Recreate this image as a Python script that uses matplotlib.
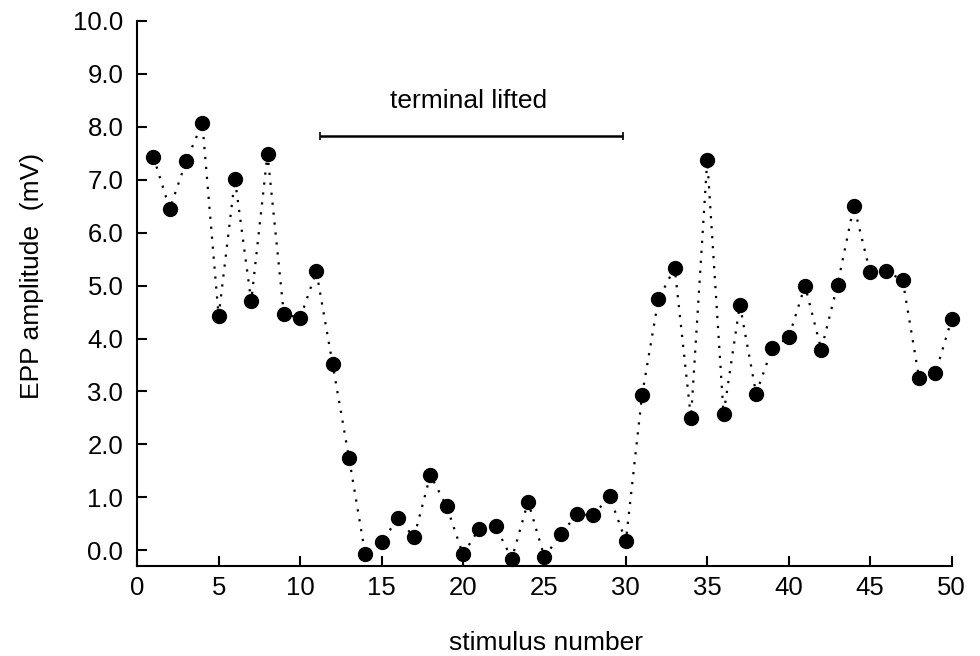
import numpy as np
import matplotlib
matplotlib.use("Agg")
import matplotlib.pyplot as plt

plt.rcParams['font.family'] = ['Liberation Sans', 'DejaVu Sans']

# EPP amplitude per stimulus
stimulus = np.arange(1, 51)
amplitude = [7.43, 6.45, 7.35, 8.07, 4.42, 7.02, 4.70, 7.49, 4.47, 4.38,
             5.27, 3.51, 1.75, -0.07, 0.15, 0.60, 0.25, 1.42, 0.83, -0.08,
             0.41, 0.45, -0.16, 0.92, -0.13, 0.30, 0.68, 0.66, 1.02, 0.17,
             2.94, 4.74, 5.34, 2.49, 7.38, 2.57, 4.64, 2.96, 3.83, 4.02,
             5.00, 3.79, 5.02, 6.51, 5.25, 5.27, 5.10, 3.26, 3.34, 4.36]

lifted_start, lifted_end = 11.2, 29.8
lifted_level = 7.83
lifted_label = "terminal lifted"

fig = plt.figure(figsize=(9.8, 6.56), dpi=100)
ax = fig.add_axes([0.14, 0.137, 0.831, 0.831])

ax.plot(stimulus, amplitude, color='black', linestyle=(0, (1, 3.5)), linewidth=1.6,
        marker='o', markersize=10, markerfacecolor='black', markeredgecolor='black',
        clip_on=False)

# bar marking the period the terminal was lifted
ax.errorbar([(lifted_start + lifted_end) / 2], [lifted_level],
            xerr=[(lifted_end - lifted_start) / 2], color='black', linewidth=1.8,
            capsize=3, capthick=1.2, fmt='none')
ax.text(20.33, 8.49, lifted_label, ha='center', va='center', fontsize=19)

ax.set_xlim(0, 50)
ax.set_ylim(-0.3, 10)
ax.set_xticks(np.arange(0, 51, 5))
ax.set_yticks(np.arange(0, 11, 1))
ax.set_yticklabels(["%.1f" % v for v in np.arange(0, 11, 1)])
ax.tick_params(direction='in', length=7, width=1.5, labelsize=18.5)
ax.tick_params(axis='x', pad=7)
ax.tick_params(axis='y', pad=10)
ax.spines['top'].set_visible(False)
ax.spines['right'].set_visible(False)
ax.spines['left'].set_linewidth(1.5)
ax.spines['bottom'].set_linewidth(1.5)
ax.spines['left'].set_bounds(-0.3, 10)

ax.set_xlabel("stimulus number", fontsize=19)
ax.set_ylabel("EPP amplitude  (mV)", fontsize=19)
ax.xaxis.set_label_coords(0.502, -0.119)
ax.yaxis.set_label_coords(-0.115, 0.532)

fig.savefig("out.png", dpi=100)
